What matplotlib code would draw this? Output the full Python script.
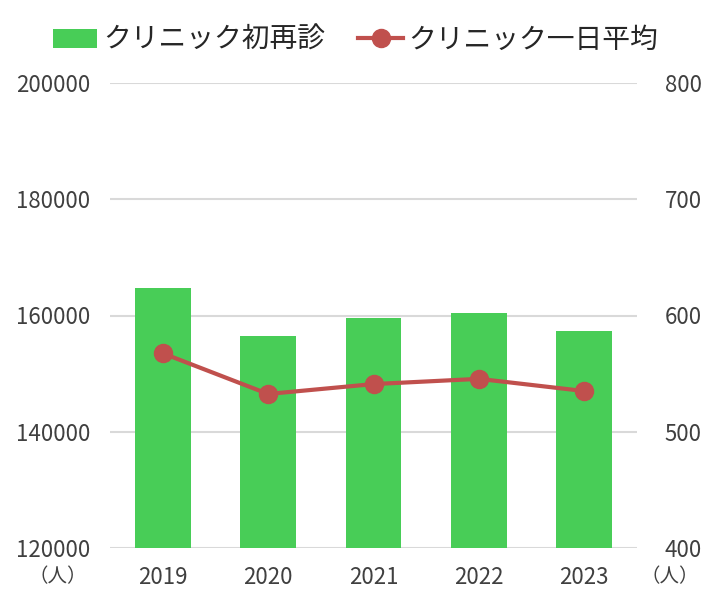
import matplotlib
matplotlib.use("Agg")
import matplotlib.pyplot as plt
from matplotlib.lines import Line2D
from matplotlib.patches import Patch

plt.rcParams['font.family'] = ['Noto Sans CJK JP', 'DejaVu Sans']

years = ['2019', '2020', '2021', '2022', '2023']
visits = [164700, 156500, 159600, 160400, 157300]      # クリニック初再診 (left axis)
daily_avg = [567.5, 532.5, 541, 545.5, 535]             # クリニック一日平均 (right axis)
left_ticks = [120000, 140000, 160000, 180000, 200000]
right_ticks = [400, 500, 600, 700, 800]

bar_color = '#48CD57'
line_color = '#C0504D'
text_color = '#404040'

fig = plt.figure(figsize=(7.11, 6.05), dpi=100)
ax = fig.add_axes([110 / 711, 1 - 548 / 605, 527 / 711, 465 / 605])
ax2 = ax.twinx()

x = range(len(years))
ax.bar(x, visits, width=0.53, color=bar_color, zorder=2)
ax.set_ylim(120000, 200000)
ax.set_yticks(left_ticks)
ax.set_xlim(-0.5, len(years) - 0.5)
ax.set_xticks(list(x))
ax.set_xticklabels(years)
ax.yaxis.grid(True, color='#D9D9D9', linewidth=1.5, zorder=0)
ax.set_axisbelow(True)

ax2.plot(list(x), daily_avg, color=line_color, linewidth=3, marker='o',
         markersize=13, zorder=3)
ax2.set_ylim(400, 800)
ax2.set_yticks(right_ticks)

for a in (ax, ax2):
    for s in a.spines.values():
        s.set_visible(False)
    a.tick_params(length=0, labelsize=16, colors=text_color)
ax.tick_params(axis='y', pad=14)
ax.tick_params(axis='x', pad=13)
ax2.tick_params(axis='y', pad=20)

fig.text(58 / 711, 1 - 577 / 605, '（人）', fontsize=14, color=text_color,
         ha='center', va='center')
fig.text(670 / 711, 1 - 577 / 605, '（人）', fontsize=14, color=text_color,
         ha='center', va='center')

handles = [Patch(facecolor=bar_color, edgecolor='none'),
           Line2D([0], [0], color=line_color, linewidth=3, marker='o', markersize=13)]
fig.legend(handles, ['クリニック初再診', 'クリニック一日平均'],
           loc='upper center', bbox_to_anchor=(0.5, 1.0), ncol=2, frameon=False,
           fontsize=20, handlelength=1.6, handletextpad=0.2, columnspacing=1.2,
           labelcolor='#262626')

fig.savefig('out.png', dpi=100)
